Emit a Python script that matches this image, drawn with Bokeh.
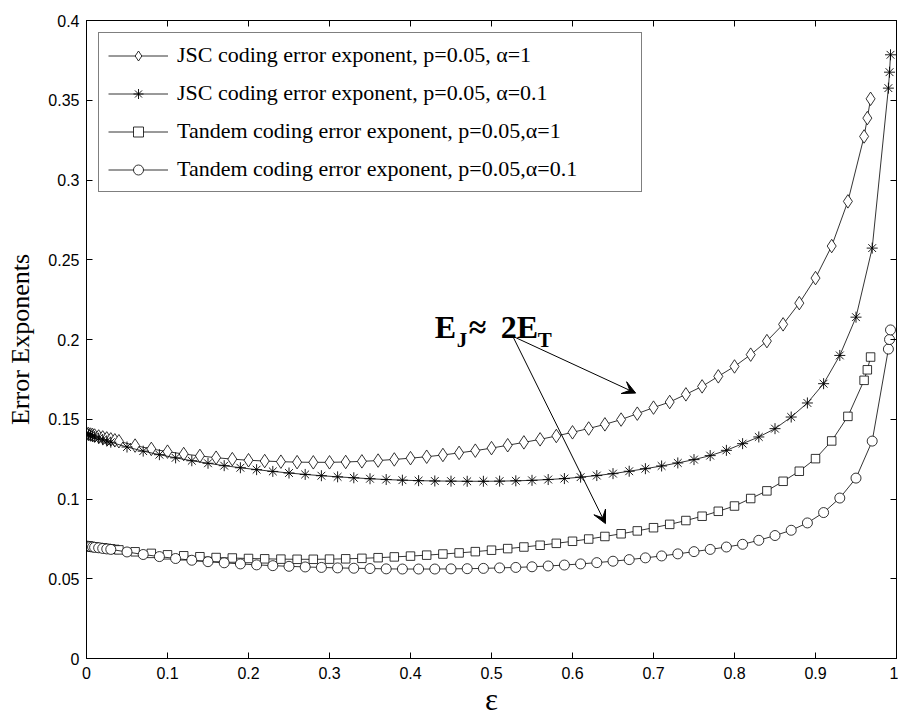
from bokeh.plotting import figure
from bokeh.models import (LinearAxis, Range1d, Legend, LegendItem, Label, Arrow,
                          VeeHead, FixedTicker, CustomJSTickFormatter)
from bokeh.embed import file_html
from bokeh.resources import INLINE

# ---------------- data ----------------
eps_a1 = [0.0, 0.0025, 0.005, 0.0075, 0.01, 0.015, 0.02, 0.025, 0.03, 0.035, 0.04,
          0.06, 0.08, 0.1, 0.12, 0.14, 0.16, 0.18, 0.2, 0.22, 0.24, 0.26, 0.28, 0.3,
          0.32, 0.34, 0.36, 0.38, 0.4, 0.42, 0.44, 0.46, 0.48, 0.5, 0.52, 0.54, 0.56,
          0.58, 0.6, 0.62, 0.64, 0.66, 0.68, 0.7, 0.72, 0.74, 0.76, 0.78, 0.8, 0.82,
          0.84, 0.86, 0.88, 0.9, 0.92, 0.94, 0.96, 0.964, 0.968]
jsc_a1 = [0.1410, 0.1407, 0.1404, 0.1401, 0.1398, 0.1392, 0.1386, 0.1380, 0.1374, 0.1368, 0.1362,
          0.1335, 0.1314, 0.1297, 0.1282, 0.1270, 0.1259, 0.1250, 0.1243, 0.1238, 0.1234, 0.1231,
          0.1230, 0.1230, 0.1232, 0.1236, 0.1241, 0.1248, 0.1256, 0.1265, 0.1276, 0.1289, 0.1303,
          0.1319, 0.1337, 0.1355, 0.1374, 0.1395, 0.1418, 0.1442, 0.1468, 0.1498, 0.1535, 0.1573,
          0.1608, 0.1656, 0.1706, 0.1769, 0.1831, 0.1905, 0.1990, 0.2095, 0.2228, 0.2385, 0.2586,
          0.2866, 0.3273, 0.3388, 0.3509]
tandem_a1 = [0.0705, 0.0703, 0.0702, 0.0700, 0.0699, 0.0696, 0.0693, 0.0690, 0.0687, 0.0684, 0.0681,
             0.0669, 0.0659, 0.0650, 0.0644, 0.0638, 0.0633, 0.0630, 0.0627, 0.0625, 0.0623, 0.0622,
             0.0622, 0.0623, 0.0625, 0.0628, 0.0632, 0.0637, 0.0642, 0.0648, 0.0655, 0.0662, 0.0670,
             0.0679, 0.0689, 0.0699, 0.0710, 0.0722, 0.0735, 0.0749, 0.0765, 0.0782, 0.0800, 0.0820,
             0.0841, 0.0865, 0.0892, 0.0923, 0.0956, 0.1003, 0.1051, 0.1111, 0.1174, 0.1253, 0.1364,
             0.1518, 0.1744, 0.1810, 0.1890]

eps_a01 = [0.0, 0.0025, 0.005, 0.0075, 0.01, 0.015, 0.02, 0.025, 0.03,
           0.05, 0.07, 0.09, 0.11, 0.13, 0.15, 0.17, 0.19, 0.21, 0.23, 0.25, 0.27, 0.29,
           0.31, 0.33, 0.35, 0.37, 0.39, 0.41, 0.43, 0.45, 0.47, 0.49, 0.51, 0.53, 0.55,
           0.57, 0.59, 0.61, 0.63, 0.65, 0.67, 0.69, 0.71, 0.73, 0.75, 0.77, 0.79, 0.81,
           0.83, 0.85, 0.87, 0.89, 0.91, 0.93, 0.95, 0.97, 0.99, 0.9914, 0.9926]
jsc_a01 = [0.1410, 0.1405, 0.1400, 0.1395, 0.1390, 0.1381, 0.1372, 0.1364, 0.1356,
           0.1326, 0.1300, 0.1278, 0.1258, 0.1240, 0.1224, 0.1209, 0.1196, 0.1184, 0.1173,
           0.1163, 0.1154, 0.1146, 0.1139, 0.1133, 0.1127, 0.1122, 0.1118, 0.1115, 0.1113,
           0.1112, 0.1111, 0.1111, 0.1112, 0.1114, 0.1117, 0.1122, 0.1128, 0.1137, 0.1147,
           0.1159, 0.1174, 0.1190, 0.1207, 0.1226, 0.1247, 0.1272, 0.1305, 0.1347, 0.1389,
           0.1441, 0.1514, 0.1602, 0.1723, 0.1900, 0.2140, 0.2573, 0.3576, 0.3676, 0.3785]
tandem_a01 = [0.0705, 0.0703, 0.0701, 0.0699, 0.0697, 0.0694, 0.0690, 0.0687, 0.0684,
              0.0668, 0.0652, 0.0639, 0.0627, 0.0616, 0.0607, 0.0600, 0.0593, 0.0587, 0.0582,
              0.0578, 0.0574, 0.0571, 0.0568, 0.0566, 0.0564, 0.0562, 0.0561, 0.0561, 0.0561,
              0.0562, 0.0563, 0.0565, 0.0568, 0.0571, 0.0575, 0.0580, 0.0586, 0.0593, 0.0601,
              0.0610, 0.0620, 0.0631, 0.0643, 0.0656, 0.0670, 0.0684, 0.0699, 0.0716, 0.0741,
              0.0771, 0.0804, 0.0850, 0.0915, 0.1006, 0.1131, 0.1363, 0.1940, 0.2000, 0.2060]

legend_labels = ["JSC coding error exponent, p=0.05, \u03b1=1",
                 "JSC coding error exponent, p=0.05, \u03b1=0.1",
                 "Tandem coding error exponent, p=0.05,\u03b1=1",
                 "Tandem coding error exponent, p=0.05,\u03b1=0.1"]
x_ticks = [0, 0.1, 0.2, 0.3, 0.4, 0.5, 0.6, 0.7, 0.8, 0.9, 1.0]
y_ticks = [0, 0.05, 0.1, 0.15, 0.2, 0.25, 0.3, 0.35, 0.4]

# annotation geometry (data coordinates)
ann_x, ann_y = 0.43, 0.2078
sub_dy = 0.0083
arrow_start = (0.5263, 0.2020)
arrow_ends = [(0.678, 0.1664), (0.6407, 0.0846)]

# ---------------- figure ----------------
p = figure(frame_width=810, frame_height=638,
           x_range=Range1d(0, 1), y_range=Range1d(0, 0.4),
           output_backend="svg", toolbar_location=None,
           min_border_left=86, min_border_top=20, min_border_right=2, min_border_bottom=10)
p.grid.visible = False
p.outline_line_color = "black"
p.outline_line_width = 1
p.background_fill_color = "white"
p.border_fill_color = "white"

fmt = CustomJSTickFormatter(code="return tick.toFixed(2).replace(/\\.?0+$/, '');")
blank = CustomJSTickFormatter(code="return '';")
for ax, ticks in ((p.xaxis[0], x_ticks), (p.yaxis[0], y_ticks)):
    ax.ticker = FixedTicker(ticks=ticks)
    ax.formatter = fmt
    ax.major_tick_in = 6
    ax.major_tick_out = 0
    ax.minor_tick_line_color = None
    ax.axis_line_color = "black"
    ax.major_tick_line_color = "black"
    ax.major_label_text_font = "Liberation Sans"
    ax.major_label_text_font_size = "16px"
    ax.major_label_text_color = "black"
    ax.axis_label_text_font = "Liberation Serif"
    ax.axis_label_text_font_style = "normal"
    ax.axis_label_text_color = "black"

p.xaxis.major_label_standoff = 8
p.yaxis.major_label_standoff = 7
p.xaxis.axis_label = "\u03b5"
p.xaxis.axis_label_text_font_size = "31px"
p.xaxis.axis_label_standoff = 0
p.yaxis.axis_label = "Error Exponents"
p.yaxis.axis_label_text_font_size = "26px"
p.yaxis.axis_label_standoff = 10

for loc, ticks in (("right", y_ticks), ("above", x_ticks)):
    ax = LinearAxis(ticker=FixedTicker(ticks=ticks), formatter=blank,
                    major_tick_in=6, major_tick_out=0, minor_tick_line_color=None,
                    major_label_standoff=0, axis_line_color="black")
    p.add_layout(ax, loc)

line_kw = dict(line_color="black", line_width=0.8)
r1 = p.line(eps_a1, jsc_a1, **line_kw)
m1 = p.scatter(eps_a1, jsc_a1, marker="diamond", size=13.5,
               fill_color="white", line_color="black", line_width=0.8)
r2 = p.line(eps_a01, jsc_a01, **line_kw)
m2 = p.scatter(eps_a01, jsc_a01, marker="asterisk", size=11,
               line_color="black", line_width=0.9)
r3 = p.line(eps_a1, tandem_a1, **line_kw)
m3 = p.scatter(eps_a1, tandem_a1, marker="square", size=8.5,
               fill_color="white", line_color="black", line_width=0.8)
r4 = p.line(eps_a01, tandem_a01, **line_kw)
m4 = p.scatter(eps_a01, tandem_a01, marker="circle", size=10,
               fill_color="white", line_color="black", line_width=0.8)

legend = Legend(items=[LegendItem(label=legend_labels[0], renderers=[r1, m1]),
                       LegendItem(label=legend_labels[1], renderers=[r2, m2]),
                       LegendItem(label=legend_labels[2], renderers=[r3, m3]),
                       LegendItem(label=legend_labels[3], renderers=[r4, m4])],
                location="top_left", margin=12, padding=9, spacing=12,
                glyph_width=60, glyph_height=25, label_height=25, label_width=455,
                label_standoff=9,
                label_text_font="Liberation Serif", label_text_font_size="22px",
                label_text_color="black",
                border_line_color="black", border_line_width=1.5,
                background_fill_color="white", background_fill_alpha=1.0)
p.add_layout(legend)

# annotation  E_J ≈ 2E_T
big = dict(text_font="Liberation Serif", text_font_style="bold", text_color="black",
           text_baseline="alphabetic", text_align="left")
p.add_layout(Label(x=ann_x, y=ann_y, text="E", text_font_size="32px", **big))
p.add_layout(Label(x=ann_x, y=ann_y - sub_dy, x_offset=22, text="J", text_font_size="21px", **big))
p.add_layout(Label(x=ann_x, y=ann_y, x_offset=34, text="\u2248", text_font_size="32px", **big))
p.add_layout(Label(x=ann_x, y=ann_y, x_offset=66, text="2E", text_font_size="32px", **big))
p.add_layout(Label(x=ann_x, y=ann_y - sub_dy, x_offset=103, text="T", text_font_size="21px", **big))
for xe, ye in arrow_ends:
    p.add_layout(Arrow(end=VeeHead(size=13, fill_color="black", line_color="black", line_width=1),
                       x_start=arrow_start[0], y_start=arrow_start[1], x_end=xe, y_end=ye,
                       line_color="black", line_width=1))

open("out.html", "w").write(file_html(p, INLINE))
